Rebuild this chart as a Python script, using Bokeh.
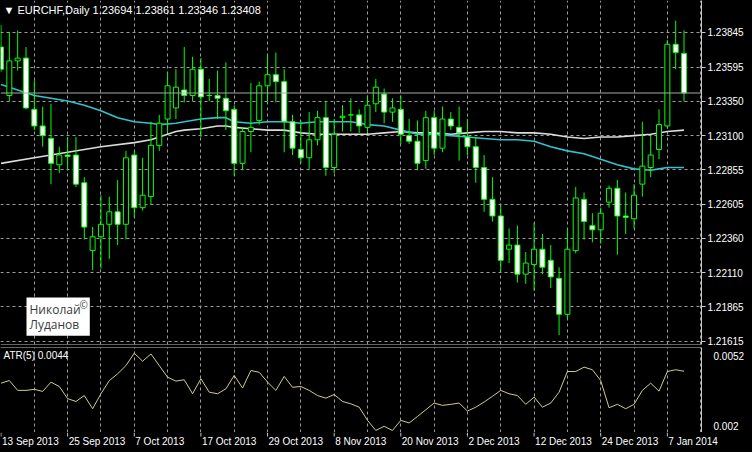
from bokeh.plotting import figure
from bokeh.layouts import column
from bokeh.models import (ColumnDataSource, Range1d, FixedTicker, PrintfTickFormatter,
                          Span, Label)
from bokeh.core.properties import value
from bokeh.embed import file_html
from bokeh.resources import INLINE

# ---------------- data ----------------
date_ticks = [0, 8, 16, 24, 32, 40, 48, 56, 64, 72, 80]
date_labels = ["13 Sep 2013", "25 Sep 2013", "7 Oct 2013", "17 Oct 2013", "29 Oct 2013",
               "8 Nov 2013", "20 Nov 2013", "2 Dec 2013", "12 Dec 2013", "24 Dec 2013",
               "7 Jan 2014"]

price_ticks = [1.21615, 1.21865, 1.22110, 1.22360, 1.22605, 1.22855,
               1.23100, 1.23350, 1.23595, 1.23845]

opens = [1.2374, 1.2339, 1.2364, 1.2366, 1.2329, 1.2317, 1.2308, 1.2289, 1.2296, 1.2296,
         1.2276, 1.2227, 1.2237, 1.2246, 1.2255, 1.2246, 1.2296, 1.2258, 1.2266, 1.2303,
         1.2322, 1.2330, 1.2343, 1.2339, 1.2358, 1.2339, 1.2339, 1.2337, 1.2329, 1.2290,
         1.2313, 1.2321, 1.2346, 1.2354, 1.2349, 1.2320, 1.2300, 1.2294, 1.2307, 1.2323,
         1.2287, 1.2323, 1.2325, 1.2325, 1.2316, 1.2333, 1.2340, 1.2327, 1.2329, 1.2310,
         1.2306, 1.2292, 1.2323, 1.2301, 1.2322, 1.2316, 1.2309, 1.2302, 1.2287, 1.2264,
         1.2252, 1.2228, 1.2231, 1.2210, 1.2217, 1.2228, 1.2220, 1.2207, 1.2181, 1.2227,
         1.2264, 1.2245, 1.2242, 1.2262, 1.2272, 1.2252, 1.2250, 1.2275, 1.2287, 1.2300,
         1.2317, 1.2376, 1.23694]
highs = [1.2390, 1.2385, 1.2386, 1.2374, 1.2350, 1.2331, 1.2333, 1.2302, 1.2309, 1.2309,
         1.2280, 1.2244, 1.2267, 1.2266, 1.2278, 1.2299, 1.2299, 1.2294, 1.2320, 1.2325,
         1.2356, 1.2358, 1.2374, 1.2367, 1.2366, 1.2351, 1.2357, 1.2363, 1.2332, 1.2316,
         1.2348, 1.2349, 1.2369, 1.2370, 1.2358, 1.2325, 1.2321, 1.2327, 1.2328, 1.2335,
         1.2322, 1.2332, 1.2337, 1.2329, 1.2339, 1.2351, 1.2344, 1.2337, 1.2339, 1.2322,
         1.2321, 1.2328, 1.2328, 1.2331, 1.2327, 1.2331, 1.2322, 1.2309, 1.2296, 1.2280,
         1.2260, 1.2243, 1.2245, 1.2226, 1.2247, 1.2239, 1.2231, 1.2215, 1.2243, 1.2273,
         1.2269, 1.2254, 1.2258, 1.2274, 1.2278, 1.2269, 1.2275, 1.2320, 1.2310, 1.2329,
         1.2379, 1.2393, 1.23861]
lows = [1.2356, 1.2335, 1.2357, 1.2329, 1.2314, 1.2302, 1.2275, 1.2283, 1.2285, 1.2273,
        1.2235, 1.2213, 1.2214, 1.2221, 1.2231, 1.2235, 1.2251, 1.2256, 1.2260, 1.2299,
        1.2312, 1.2322, 1.2334, 1.2335, 1.2309, 1.2335, 1.2322, 1.2314, 1.2281, 1.2285,
        1.2298, 1.2318, 1.2335, 1.2334, 1.2298, 1.2296, 1.2290, 1.2286, 1.2303, 1.2281,
        1.2283, 1.2313, 1.2313, 1.2312, 1.2313, 1.2327, 1.2319, 1.2320, 1.2304, 1.2304,
        1.2285, 1.2286, 1.2296, 1.2298, 1.2314, 1.2292, 1.2296, 1.2276, 1.2255, 1.2248,
        1.2212, 1.2218, 1.2204, 1.2203, 1.2198, 1.2210, 1.2200, 1.2166, 1.2178, 1.2225,
        1.2235, 1.2233, 1.2232, 1.2258, 1.2224, 1.2239, 1.2243, 1.2266, 1.2280, 1.2293,
        1.2315, 1.2358, 1.23346]
closes = [1.2358, 1.2364, 1.2366, 1.2330, 1.2317, 1.2310, 1.2290, 1.2296, 1.2295, 1.2275,
          1.2244, 1.2237, 1.2246, 1.2255, 1.2246, 1.2294, 1.2258, 1.2267, 1.2303, 1.2319,
          1.2346, 1.2345, 1.2339, 1.2358, 1.2338, 1.2339, 1.2337, 1.2328, 1.2290, 1.2313,
          1.2316, 1.2346, 1.2354, 1.2349, 1.2320, 1.2301, 1.2294, 1.2307, 1.2323, 1.2287,
          1.2311, 1.2324, 1.2325, 1.2317, 1.2332, 1.2345, 1.2327, 1.2330, 1.2311, 1.2306,
          1.2290, 1.2323, 1.2301, 1.2322, 1.2317, 1.2312, 1.2302, 1.2287, 1.2264, 1.2252,
          1.2220, 1.2231, 1.2210, 1.2218, 1.2228, 1.2215, 1.2208, 1.2181, 1.2228, 1.2265,
          1.2248, 1.2242, 1.2254, 1.2272, 1.2252, 1.2251, 1.2267, 1.2288, 1.2296, 1.2318,
          1.2376, 1.2370, 1.23408]

cyan_idx = [0, 4, 6, 8, 10, 12, 14, 16, 18, 19, 21, 22, 24, 26, 27, 28, 30, 32, 34, 36,
            38, 40, 42, 44, 46, 48, 50, 52, 54, 56, 58, 60, 62, 64, 66, 68, 70, 72, 74, 76,
            78, 79, 80, 82]
cyan_ma = [1.2347, 1.2339, 1.2337, 1.2335, 1.2332, 1.2328, 1.2323, 1.2320, 1.2319, 1.2318,
           1.2319, 1.2320, 1.2322, 1.2323, 1.2323, 1.2320, 1.2319, 1.2320, 1.2320, 1.2319,
           1.2320, 1.2320, 1.2320, 1.2318, 1.2317, 1.2314, 1.2311, 1.2311, 1.2310, 1.2309,
           1.2308, 1.2307, 1.2307, 1.2306, 1.2302, 1.2299, 1.2297, 1.2293, 1.2289, 1.2286,
           1.2285, 1.2286, 1.2287, 1.2287]

white_idx = [0, 4, 8, 12, 16, 18, 20, 21, 22, 24, 26, 27, 28, 30, 32, 34, 36, 38, 40, 42,
             44, 46, 48, 50, 52, 54, 56, 58, 60, 62, 64, 66, 68, 70, 72, 74, 76, 78, 80, 82]
white_ma = [1.2290, 1.2294, 1.2298, 1.2302, 1.2305, 1.2307, 1.2311, 1.2313, 1.2314, 1.2315,
            1.2317, 1.2317, 1.2316, 1.2315, 1.2314, 1.2314, 1.2312, 1.2311, 1.2311, 1.2311,
            1.2311, 1.2312, 1.2313, 1.2312, 1.2312, 1.2311, 1.2312, 1.2313, 1.2313, 1.2312,
            1.2312, 1.2311, 1.2309, 1.2308, 1.2309, 1.2309, 1.2310, 1.2311, 1.2313, 1.2314]

atr = [0.00390, 0.00400, 0.00362, 0.00362, 0.00366, 0.00358, 0.00394, 0.00377, 0.00330, 0.00319,
       0.00342, 0.00291, 0.00349, 0.00400, 0.00426, 0.00458, 0.00506, 0.00475, 0.00503, 0.00458,
       0.00413, 0.00398, 0.00403, 0.00349, 0.00407, 0.00355, 0.00349, 0.00368, 0.00420, 0.00371,
       0.00439, 0.00432, 0.00394, 0.00362, 0.00416, 0.00374, 0.00377, 0.00362, 0.00342, 0.00332,
       0.00346, 0.00319, 0.00310, 0.00297, 0.00246, 0.00207, 0.00223, 0.00207, 0.00246, 0.00236,
       0.00261, 0.00287, 0.00313, 0.00304, 0.00308, 0.00313, 0.00282, 0.00297, 0.00317, 0.00339,
       0.00362, 0.00349, 0.00342, 0.00308, 0.00336, 0.00297, 0.00313, 0.00355, 0.00435, 0.00435,
       0.00452, 0.00442, 0.00400, 0.00295, 0.00308, 0.00291, 0.00308, 0.00362, 0.00390, 0.00359,
       0.00435, 0.00442, 0.00436]

atr_label_pos = [0.00223, 0.00497]
atr_label_txt = ["0.002", "0.0052"]

title_text = "\u25BC EURCHF,Daily  1.23694 1.23861 1.23346 1.23408"

# ---------------- styling ----------------
LIME = "#00ff00"
GRID = "#9c9c9c"
AXIS = "#c8c8c8"
FONT = "Liberation Sans"
FW = 701
X0, X1 = -0.06, 84.1

xs = list(range(len(opens)))
src = ColumnDataSource(dict(
    x=xs,
    top=[max(o, c) for o, c in zip(opens, closes)],
    bottom=[min(o, c) for o, c in zip(opens, closes)],
    high=highs, low=lows,
    fill=["black" if c >= o else "white" for o, c in zip(opens, closes)],
))

xr = Range1d(X0, X1)
common = dict(toolbar_location=None, output_backend="svg", background_fill_color="black",
              border_fill_color="black", outline_line_color=None,
              min_border_left=0, min_border_right=0)

# ---- main price panel ----
p = figure(frame_width=FW, frame_height=344, x_range=xr, y_range=Range1d(1.21592, 1.24076),
           y_axis_location="right", min_border_top=0, min_border_bottom=3, **common)
p.xaxis.visible = False
p.yaxis.ticker = FixedTicker(ticks=price_ticks)
p.yaxis.formatter = PrintfTickFormatter(format="%.5f")
p.yaxis.axis_line_color = AXIS
p.yaxis.major_tick_line_color = AXIS
p.yaxis.major_tick_out = 4
p.yaxis.major_tick_in = 0
p.yaxis.minor_tick_line_color = None
p.yaxis.major_label_text_color = "white"
p.yaxis.major_label_text_font = FONT
p.yaxis.major_label_text_font_size = "10px"
p.yaxis.major_label_standoff = 2
p.ygrid.grid_line_color = GRID
p.ygrid.grid_line_dash = "3 3"
p.xgrid.ticker = FixedTicker(ticks=list(range(4, 85, 4)))
p.xgrid.grid_line_color = GRID
p.xgrid.grid_line_dash = "3 3"

p.add_layout(Span(location=closes[-1], dimension="width", line_color="#a8a8a8", line_width=1))

p.line(white_idx, white_ma, line_color="#dcdcdc", line_width=1.6)
p.line(cyan_idx, cyan_ma, line_color="#2fc3cf", line_width=1.6)

p.segment(x0="x", y0="low", x1="x", y1="high", source=src, line_color=LIME, line_width=1)
p.vbar(x="x", top="top", bottom="bottom", width=0.6, source=src,
       fill_color="fill", line_color=LIME, line_width=1)

p.add_layout(Span(location=1.21592, dimension="width", line_color=AXIS, line_width=1))

p.add_layout(Label(x=3, y=341, x_units="screen", y_units="screen", text=title_text,
                   text_color="white", text_font=FONT, text_font_size="11px",
                   text_baseline="top"))
p.add_layout(Label(x=FW + 1, y=closes[-1], x_units="screen", y_units="data",
                   text="1.23408 ", text_color="black", text_font=FONT, text_font_size="10px",
                   text_baseline="middle", background_fill_color="white",
                   border_line_color="white", padding=2))
p.add_layout(Label(x=26, y=47, x_units="screen", y_units="screen",
                   text="\u041d\u0438\u043a\u043e\u043b\u0430\u0439\u00a0\u00a0\n\u041b\u0443\u0434\u0430\u043d\u043e\u0432",
                   text_color="#3a3a3a", text_font="Open Sans", text_font_size="12px",
                   text_baseline="top", text_line_height=0.9,
                   background_fill_color="white", padding=3))
p.add_layout(Label(x=79, y=47, x_units="screen", y_units="screen", text="\u00a9",
                   text_color="#3a3a3a", text_font="Open Sans", text_font_size="10px",
                   text_baseline="top"))

# ---- ATR panel ----
q = figure(frame_width=FW, frame_height=85, x_range=xr, y_range=Range1d(0.00199, 0.00528),
           y_axis_location="right", min_border_top=0, min_border_bottom=0, **common)
q.line(xs, atr, line_color="#cfcd86", line_width=1)
q.add_layout(Span(location=0.00528, dimension="width", line_color=AXIS, line_width=1))
q.add_layout(Span(location=0.00199, dimension="width", line_color=AXIS, line_width=1))
q.xaxis.visible = False
q.ygrid.grid_line_color = None
q.xgrid.ticker = FixedTicker(ticks=list(range(4, 85, 4)))
q.xgrid.grid_line_color = GRID
q.xgrid.grid_line_dash = "3 3"
q.yaxis.ticker = FixedTicker(ticks=atr_label_pos)
q.yaxis.major_label_overrides = dict(zip(atr_label_pos, atr_label_txt))
q.yaxis.axis_line_color = AXIS
q.yaxis.major_tick_line_color = None
q.yaxis.minor_tick_line_color = None
q.yaxis.major_label_text_color = "white"
q.yaxis.major_label_text_font = FONT
q.yaxis.major_label_text_font_size = "10px"
q.yaxis.major_label_standoff = 6
q.add_layout(Label(x=3, y=83, x_units="screen", y_units="screen", text="ATR(5) 0.0044",
                   text_color="white", text_font=FONT, text_font_size="10px",
                   text_baseline="top"))

# ---- date strip (wider than the frame so the last date fits) ----
RW = 752
r = figure(frame_width=RW, frame_height=20, x_range=Range1d(X0, X0 + (X1 - X0) * RW / FW),
           y_range=Range1d(-20, 0), min_border_top=0, min_border_bottom=0, **common)
r.xaxis.visible = False
r.yaxis.visible = False
r.grid.visible = False
r.segment(x0=date_ticks, y0=[0] * len(date_ticks), x1=date_ticks, y1=[-4] * len(date_ticks),
          line_color=AXIS, line_width=1)
r.text(x=date_ticks, y=[-3] * len(date_ticks), text=date_labels, x_offset=1,
       text_color="white", text_font=value(FONT), text_font_size="10px",
       text_align="left", text_baseline="top")

layout = column(p, q, r, spacing=0, styles={"background-color": "black"})
open("out.html", "w").write(file_html(layout, INLINE))
